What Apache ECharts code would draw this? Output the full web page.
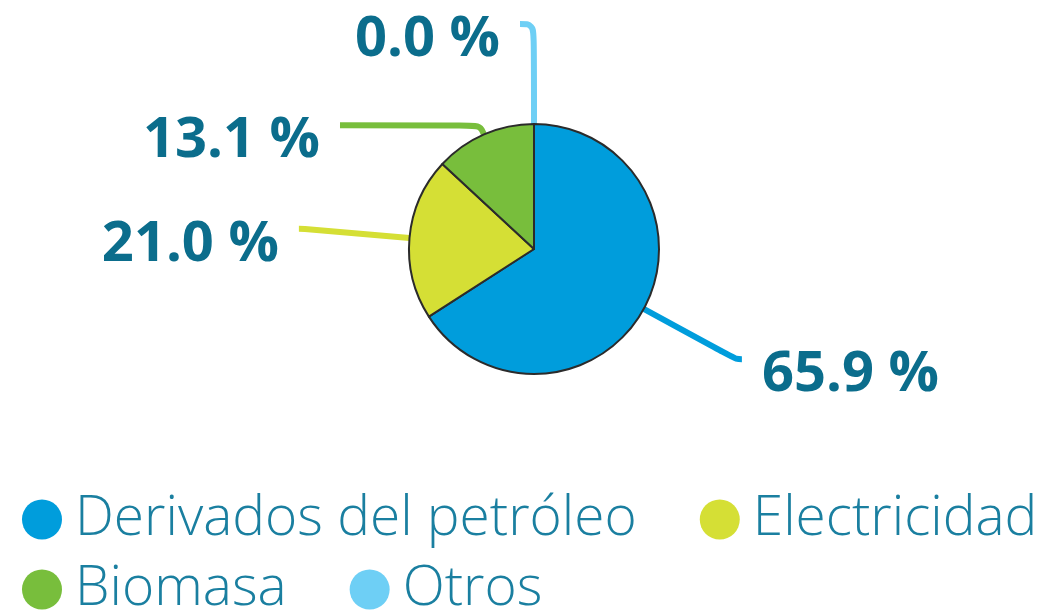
<!DOCTYPE html>
<html>
<head>
<meta charset="utf-8">
<script src="https://cdn.jsdelivr.net/npm/echarts@6/dist/echarts.min.js"></script>
<style>
  html, body { margin: 0; padding: 0; background: #fff; }
  #chart { width: 1048px; height: 610px; }
</style>
</head>
<body>
<div id="chart"></div>
<script>
const categories = ['Derivados del petróleo', 'Electricidad', 'Biomasa', 'Otros'];
const values = [65.9, 21.0, 13.1, 0.0];
const colors = ['#009ddc', '#d5df35', '#78be3c', '#6ecff5'];
// label line lengths per slice [length, length2]
const lineLengths = [[105, 6], [105, 6], [10, 140], [100, 14]];

const chart = echarts.init(document.getElementById('chart'));

const data = categories.map((name, i) => ({
  name,
  value: values[i],
  itemStyle: { color: colors[i] },
  labelLine: { length: lineLengths[i][0], length2: lineLengths[i][1] }
}));

chart.setOption({
  animation: false,
  legend: {
    left: 17,
    top: 487,
    width: 1100,
    icon: 'circle',
    itemWidth: 40,
    itemHeight: 40,
    itemGap: 15,
    itemStyle: { borderWidth: 0 },
    textStyle: {
      fontFamily: 'Open Sans',
      fontWeight: 300,
      fontSize: 55,
      lineHeight: 44,
      color: '#1a7fa0',
      padding: [0, 48, 0, 8]
    },
    data: categories
  },
  series: [{
    type: 'pie',
    center: [534, 249],
    radius: 125,
    startAngle: 90,
    clockwise: true,
    avoidLabelOverlap: false,
    itemStyle: { borderColor: '#2b2b2b', borderWidth: 2 },
    label: {
      show: true,
      // empty first line pushes the number a little below the line end
      formatter: p => '{gap| }\n{v|' + p.value.toFixed(1) + ' %}',
      distanceToLabelLine: 20,
      rich: {
        gap: { fontSize: 10, lineHeight: 32 },
        v: {
          fontFamily: 'Open Sans',
          fontWeight: 'bold',
          fontSize: 56,
          lineHeight: 60,
          color: '#0b6d8c'
        }
      }
    },
    labelLine: {
      show: true,
      smooth: 0.4,
      lineStyle: { width: 6 }
    },
    emphasis: { disabled: true },
    data
  }]
});
</script>
</body>
</html>
